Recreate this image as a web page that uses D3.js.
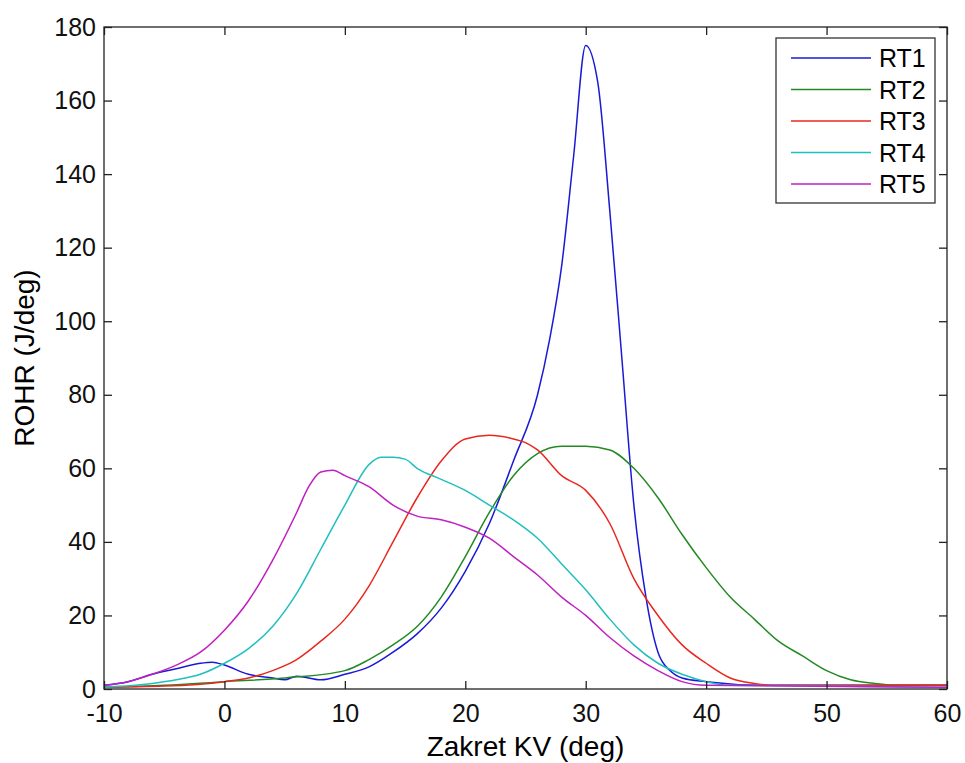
<!DOCTYPE html>
<html><head><meta charset="utf-8">
<script src="https://cdn.jsdelivr.net/npm/d3@7"></script>
<style>body{margin:0;background:#fff;font-family:"Liberation Sans",Arial,sans-serif}</style>
</head><body><div id="chart"></div>
<script>
const seriesNames = ["RT1", "RT2", "RT3", "RT4", "RT5"];
const seriesColors = ["#1a1ad6", "#238a23", "#e8281e", "#20bfbf", "#c020c0"];
const rt1 = [[-10,1],[-8,2],[-6,4],[-4,5.5],[-2,7],[-1,7.3],[0,6.5],[2,4],[4,3],[5,2.5],[6,3.5],[8,2.5],[10,4],[12,6],[14,10],[16,15],[18,22],[20,32],[22,45],[24,62],[26,80],[27,95],[28,115],[29,145],[30,175],[31,165],[32,130],[33,90],[34,50],[35,25],[36,10],[37,5],[38,3],[40,2],[45,1],[50,1],[55,1],[60,1]];
const rt2 = [[-10,0.5],[-5,1],[0,2],[5,3],[10,5],[12,8],[14,12],[16,17],[18,25],[20,36],[22,48],[24,58],[26,64],[28,66],[30,66],[32,65],[34,60],[36,52],[38,42],[40,33],[42,25],[44,19],[46,13],[48,9],[50,5],[52,2.5],[54,1.5],[56,1],[60,1]];
const rt3 = [[-10,0.5],[-5,0.8],[0,2],[2,3],[4,5],[6,8],[8,13],[10,19],[12,28],[14,40],[16,52],[18,62],[20,68],[22,69],[24,68],[25,67],[26,65],[28,58],[30,54],[32,45],[34,30],[36,20],[38,12],[40,7],[42,3],[44,1.5],[46,1],[60,1]];
const rt4 = [[-10,0.5],[-6,1.5],[-4,2.5],[-2,4],[0,7],[2,11],[4,17],[6,26],[8,38],[10,50],[12,61],[13,63],[14,63],[15,62.5],[16,60],[18,57],[20,54],[22,50],[24,46],[26,41],[28,34],[30,27],[32,19],[34,12],[36,7],[38,4],[40,2],[42,1],[60,0.5]];
const rt5 = [[-10,1],[-8,2],[-6,4],[-4,6.5],[-2,10],[0,16],[2,24],[4,35],[6,48],[7,55],[8,59],[9,59.5],[10,58],[12,55],[14,50],[16,47],[18,46],[20,44],[22,41],[24,36],[26,31],[28,25],[30,20],[32,14],[34,9],[36,5],[38,2],[40,1],[60,0.5]];
const allSeries = [rt1, rt2, rt3, rt4, rt5];
const xTicks = [-10,0,10,20,30,40,50,60];
const yTicks = [0,20,40,60,80,100,120,140,160,180];

const W = 965, H = 763;
const m = {left: 104, right: 18, top: 27, bottom: 74};
const svg = d3.select("#chart").append("svg").attr("width", W).attr("height", H);
const x = d3.scaleLinear().domain([-10, 60]).range([m.left, W - m.right]);
const y = d3.scaleLinear().domain([0, 180]).range([H - m.bottom, m.top]);
const fmt = d => String(d);

const line = d3.line().x(d => x(d[0])).y(d => y(d[1])).curve(d3.curveMonotoneX);
allSeries.forEach((s, i) => {
    svg.append("path").attr("d", line(s)).attr("fill", "none")
        .attr("stroke", seriesColors[i]).attr("stroke-width", 1.5);
});

const gx = svg.append("g").attr("transform", `translate(0,${y(0)})`)
    .call(d3.axisBottom(x).tickValues(xTicks).tickSize(-8).tickPadding(15).tickFormat(fmt));
const gxt = svg.append("g").attr("transform", `translate(0,${y(180)})`)
    .call(d3.axisTop(x).tickValues(xTicks).tickSize(-8).tickFormat(""));
const gy = svg.append("g").attr("transform", `translate(${x(-10)},0)`)
    .call(d3.axisLeft(y).tickValues(yTicks).tickSize(-8).tickPadding(8).tickFormat(fmt));
const gyr = svg.append("g").attr("transform", `translate(${x(60)},0)`)
    .call(d3.axisRight(y).tickValues(yTicks).tickSize(-8).tickFormat(""));
[gx, gxt, gy, gyr].forEach(g => {
    g.selectAll("path,line").attr("stroke", "#222").attr("stroke-width", 1.3);
    g.selectAll("text").attr("font-size", 25).attr("fill", "#111")
        .attr("font-family", "Liberation Sans, Arial, sans-serif");
    g.selectAll(".domain").remove();
});
svg.append("rect").attr("x", x(-10)).attr("y", y(180)).attr("width", x(60) - x(-10))
    .attr("height", y(0) - y(180)).attr("fill", "none").attr("stroke", "#222").attr("stroke-width", 1.3);

svg.append("text").attr("x", (x(-10) + x(60)) / 2).attr("y", 756).attr("text-anchor", "middle")
    .attr("font-size", 28).text("Zakret KV (deg)");
svg.append("text").attr("transform", `translate(34,${(y(0) + y(180)) / 2}) rotate(-90)`)
    .attr("text-anchor", "middle").attr("font-size", 28).text("ROHR (J/deg)");

const lg = svg.append("g").attr("transform", "translate(776,38)");
lg.append("rect").attr("width", 159).attr("height", 165).attr("fill", "#fff")
    .attr("stroke", "#333").attr("stroke-width", 1.3);
seriesNames.forEach((n, i) => {
    const yy = 20 + i * 31.5;
    lg.append("line").attr("x1", 15).attr("x2", 95).attr("y1", yy).attr("y2", yy)
        .attr("stroke", seriesColors[i]).attr("stroke-width", 1.5);
    lg.append("text").attr("x", 103).attr("y", yy + 9).attr("font-size", 25).text(n);
});
</script></body></html>
